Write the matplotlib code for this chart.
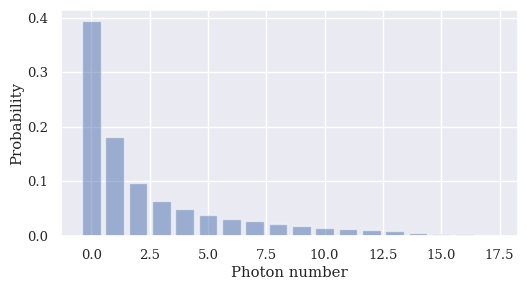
import numpy as np
import matplotlib
matplotlib.use("Agg")
import matplotlib.pyplot as plt
from matplotlib.ticker import MultipleLocator
import seaborn as sns

# photon number distribution
photon_n = np.arange(18)
prob = [0.394, 0.181, 0.098, 0.065, 0.049, 0.038, 0.032, 0.027, 0.023,
        0.018, 0.015, 0.013, 0.0115, 0.0085, 0.006, 0.0038, 0.003, 0.0018]

sns.set_theme(style="darkgrid")
plt.rcParams["font.family"] = ["DejaVu Serif"]

fig, ax = plt.subplots(figsize=(5.27, 2.89), dpi=100)
ax.bar(photon_n, prob, color="#4C72B0", alpha=0.5)
ax.yaxis.set_major_locator(MultipleLocator(0.1))
ax.set_xlabel("Photon number", fontsize=10.7, labelpad=3)
ax.set_ylabel("Probability", fontsize=10.7, labelpad=2)
ax.tick_params(labelsize=9.5)
fig.subplots_adjust(left=0.116, right=0.983, top=0.965, bottom=0.183)
fig.savefig("out.png", dpi=100)
